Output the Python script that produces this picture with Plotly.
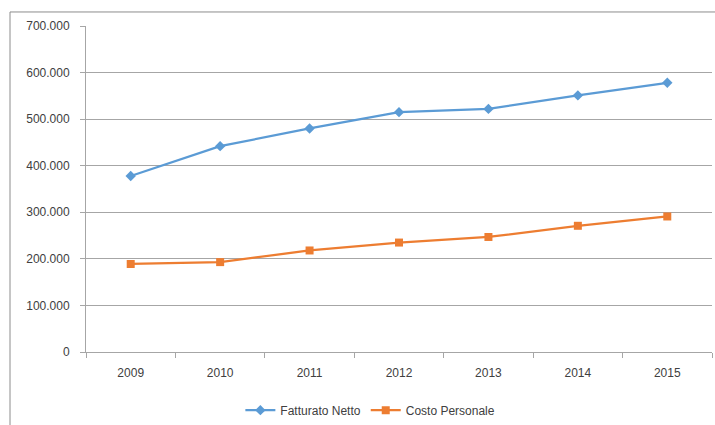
import plotly.graph_objects as go

# Annual series (euro)
years = ["2009", "2010", "2011", "2012", "2013", "2014", "2015"]
fatturato_netto = [378000, 442000, 480000, 515000, 522000, 551000, 578000]
costo_personale = [189000, 193000, 218000, 235000, 247000, 271000, 291000]

BLUE = "#5B9BD5"
ORANGE = "#ED7D31"
GRID = "#A6A6A6"
TEXT = "#404040"
FONT = "Liberation Sans"
FS = 12

fig = go.Figure()
fig.add_trace(go.Scatter(
    x=years, y=fatturato_netto, name="Fatturato Netto",
    mode="lines+markers",
    line=dict(color=BLUE, width=2.25),
    marker=dict(symbol="diamond", size=8, color=BLUE),
))
fig.add_trace(go.Scatter(
    x=years, y=costo_personale, name="Costo Personale",
    mode="lines+markers",
    line=dict(color=ORANGE, width=2.25),
    marker=dict(symbol="square", size=8, color=ORANGE),
))

fig.update_layout(
    width=715, height=425,
    margin=dict(l=86, r=3, t=26, b=73, autoexpand=False),
    paper_bgcolor="white", plot_bgcolor="white",
    separators=",.",
    font=dict(family=FONT, size=FS, color=TEXT),
    showlegend=True,
    legend=dict(
        orientation="h", xref="container", yref="container",
        x=0.518, xanchor="center", y=0.035, yanchor="middle",
        font=dict(family=FONT, size=FS, color=TEXT),
        itemwidth=30, tracegroupgap=0, bgcolor="rgba(0,0,0,0)",
    ),
    xaxis=dict(
        type="category", range=[-0.5, 6.5], automargin=False,
        showline=True, linecolor=GRID, linewidth=1,
        ticks="outside", ticklen=5, tickcolor=GRID, tickson="boundaries",
        showgrid=False, ticklabelstandoff=10,
        tickfont=dict(family=FONT, size=FS, color=TEXT),
    ),
    yaxis=dict(
        range=[0, 700000], dtick=100000, tickformat=",d", automargin=False,
        showline=True, linecolor=GRID, linewidth=1,
        showgrid=True, gridcolor=GRID, gridwidth=1,
        ticks="outside", ticklen=5, tickcolor=GRID,
        zeroline=False, ticklabelstandoff=8,
        tickfont=dict(family=FONT, size=FS, color=TEXT),
    ),
)

# Chart-area frame
fig.add_shape(
    type="rect", xref="paper", yref="paper",
    x0=-0.1214, x1=1.02, y0=-0.3, y1=1.043,
    line=dict(color="#8C8C8C", width=1), fillcolor="rgba(0,0,0,0)",
    layer="below",
)

fig.write_html("out.html")
